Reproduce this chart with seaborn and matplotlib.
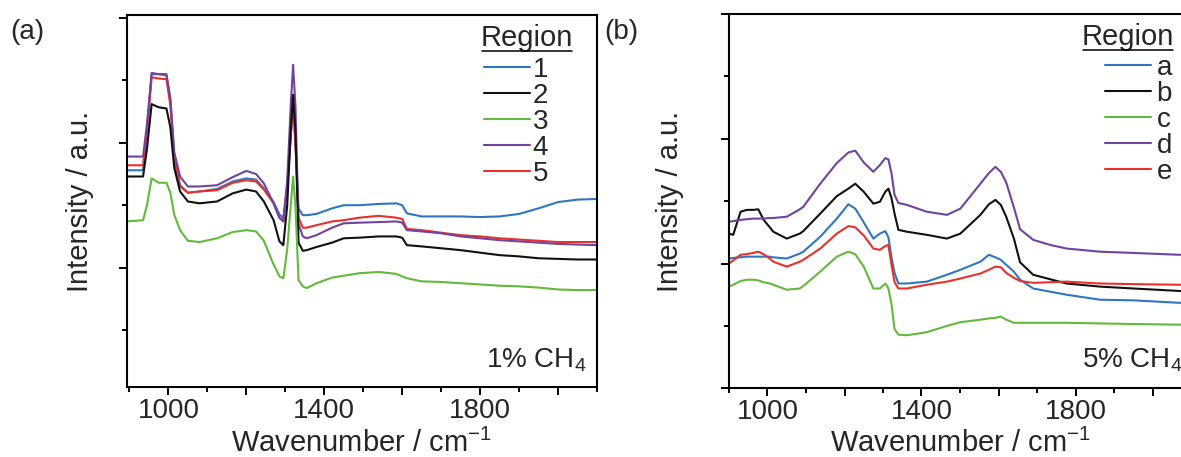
import matplotlib
matplotlib.use("Agg")
import matplotlib.pyplot as plt
import pandas as pd
import seaborn as sns
from matplotlib.lines import Line2D
from matplotlib.ticker import FixedLocator, FuncFormatter, NullFormatter
from matplotlib.transforms import IdentityTransform

# ---------------- data: Raman spectra, panel (a) 1% CH4 ----------------
wavenumber_a = [893, 935, 945, 957, 975, 995, 1005, 1015, 1030, 1050, 1080, 1125,
                1165, 1200, 1225, 1245, 1270, 1285, 1295, 1305, 1314, 1320, 1326,
                1334, 1345, 1355, 1380, 1420, 1450, 1490, 1540, 1585, 1600, 1612,
                1650, 1700, 1750, 1800, 1850, 1900, 1950, 2000, 2050, 2100]
region_1 = [3.56, 3.56, 4.20, 5.10, 5.10, 5.08, 4.70, 3.80, 3.32, 3.20, 3.22, 3.26,
            3.38, 3.43, 3.41, 3.27, 3.05, 2.85, 2.80, 3.30, 4.10, 4.65, 4.00,
            2.95, 2.84, 2.84, 2.86, 2.95, 3.00, 3.00, 3.02, 3.03, 3.00, 2.87,
            2.82, 2.82, 2.82, 2.81, 2.82, 2.86, 2.95, 3.05, 3.09, 3.10]
region_2 = [3.46, 3.46, 3.90, 4.62, 4.57, 4.55, 4.25, 3.60, 3.22, 3.06, 3.03, 3.06,
            3.19, 3.25, 3.22, 3.06, 2.76, 2.42, 2.36, 3.00, 4.20, 4.77, 4.20,
            2.40, 2.27, 2.28, 2.33, 2.40, 2.47, 2.48, 2.50, 2.50, 2.48, 2.36,
            2.34, 2.31, 2.28, 2.24, 2.20, 2.18, 2.15, 2.14, 2.13, 2.13]
region_3 = [2.74, 2.76, 3.00, 3.43, 3.36, 3.36, 3.20, 2.85, 2.60, 2.43, 2.41, 2.47,
            2.57, 2.60, 2.58, 2.43, 2.05, 1.86, 1.83, 2.30, 3.00, 3.46, 3.00,
            1.80, 1.70, 1.67, 1.75, 1.84, 1.87, 1.91, 1.93, 1.90, 1.86, 1.83,
            1.78, 1.77, 1.75, 1.73, 1.71, 1.70, 1.68, 1.65, 1.64, 1.64]
region_4 = [3.78, 3.78, 4.30, 5.12, 5.10, 5.10, 4.70, 3.85, 3.46, 3.30, 3.30, 3.32,
            3.45, 3.55, 3.50, 3.35, 3.03, 2.80, 2.74, 3.40, 4.60, 5.25, 4.60,
            2.70, 2.50, 2.47, 2.52, 2.64, 2.71, 2.72, 2.73, 2.74, 2.72, 2.60,
            2.58, 2.55, 2.50, 2.47, 2.44, 2.42, 2.40, 2.38, 2.37, 2.36]
region_5 = [3.64, 3.64, 4.20, 5.05, 5.03, 5.02, 4.60, 3.75, 3.30, 3.20, 3.22, 3.24,
            3.36, 3.40, 3.38, 3.25, 3.03, 2.80, 2.74, 3.30, 4.10, 4.65, 4.00,
            2.80, 2.64, 2.64, 2.68, 2.74, 2.76, 2.80, 2.83, 2.80, 2.78, 2.62,
            2.60, 2.56, 2.52, 2.50, 2.47, 2.45, 2.43, 2.41, 2.41, 2.41]

# ---------------- data: Raman spectra, panel (b) 5% CH4 ----------------
wavenumber_b = [900, 911, 930, 946, 963, 976, 990, 1006, 1015, 1050, 1084, 1093,
                1137, 1180, 1210, 1228, 1250, 1275, 1292, 1306, 1314, 1322, 1330,
                1340, 1362, 1414, 1466, 1501, 1553, 1575, 1592, 1606, 1620, 1640,
                1656, 1690, 1733, 1777, 1864, 1950, 2071, 2100]
region_a = [2.08, 2.09, 2.10, 2.11, 2.11, 2.11, 2.11, 2.11, 2.10, 2.08, 2.16, 2.19,
            2.43, 2.72, 2.95, 2.88, 2.66, 2.40, 2.48, 2.52, 2.42, 2.10, 1.85,
            1.68, 1.68, 1.71, 1.82, 1.90, 2.03, 2.14, 2.10, 2.06, 1.98, 1.87,
            1.74, 1.60, 1.55, 1.50, 1.42, 1.41, 1.37, 1.36]
region_b = [2.48, 2.46, 2.83, 2.86, 2.86, 2.87, 2.70, 2.58, 2.51, 2.40, 2.48, 2.52,
            2.80, 3.08, 3.20, 3.28, 3.15, 2.96, 2.99, 3.15, 3.20, 3.05, 2.80,
            2.54, 2.51, 2.46, 2.40, 2.48, 2.78, 2.95, 3.02, 2.94, 2.75, 2.40,
            2.02, 1.82, 1.75, 1.68, 1.63, 1.60, 1.56, 1.55]
region_c = [1.63, 1.66, 1.72, 1.74, 1.74, 1.73, 1.70, 1.68, 1.66, 1.58, 1.60, 1.64,
            1.87, 2.11, 2.19, 2.15, 1.95, 1.60, 1.60, 1.68, 1.60, 1.35, 0.95,
            0.86, 0.85, 0.90, 1.00, 1.06, 1.10, 1.12, 1.13, 1.15, 1.10, 1.05,
            1.05, 1.05, 1.05, 1.05, 1.04, 1.03, 1.02, 1.02]
region_d = [2.67, 2.68, 2.70, 2.71, 2.72, 2.72, 2.72, 2.73, 2.73, 2.75, 2.87, 2.91,
            3.28, 3.61, 3.78, 3.81, 3.62, 3.47, 3.58, 3.69, 3.67, 3.45, 3.10,
            2.97, 2.94, 2.83, 2.78, 2.88, 3.28, 3.45, 3.55, 3.47, 3.30, 2.90,
            2.55, 2.38, 2.30, 2.24, 2.19, 2.17, 2.14, 2.13]
region_e = [2.00, 2.05, 2.14, 2.15, 2.17, 2.19, 2.15, 2.08, 2.03, 1.95, 2.03, 2.06,
            2.24, 2.48, 2.60, 2.58, 2.45, 2.24, 2.22, 2.28, 2.30, 1.98, 1.70,
            1.60, 1.60, 1.66, 1.71, 1.76, 1.84, 1.90, 1.95, 1.94, 1.85, 1.77,
            1.72, 1.69, 1.70, 1.71, 1.68, 1.67, 1.66, 1.66]

labels_a = ["1", "2", "3", "4", "5"]
labels_b = ["a", "b", "c", "d", "e"]
line_colors = ["#2f76c2", "#111111", "#63b93a", "#7143a1", "#e8312b"]
xtick_labelled = [1000, 1400, 1800]

# ---------------- style ----------------
sns.set_style("ticks")
plt.rcParams["font.family"] = ["Liberation Sans", "DejaVu Sans"]
plt.rcParams["mathtext.fontset"] = "custom"
plt.rcParams["mathtext.rm"] = "Liberation Sans"
plt.rcParams["mathtext.it"] = "Liberation Sans:italic"
plt.rcParams["mathtext.default"] = "regular"

W, H = 1181, 457
fig = plt.figure(figsize=(W / 100, H / 100), dpi=100)
fig.patch.set_facecolor("white")


def px_rect(left, top, right, bottom):
    return [left / W, 1 - bottom / H, (right - left) / W, (bottom - top) / H]


def fx(px):
    return px / W


def fy(px):
    return 1 - px / H


ax_a = fig.add_axes(px_rect(126.7, 15.5, 597, 387))
ax_b = fig.add_axes(px_rect(729, 14, 1191, 388.3))


def long_form(wn, names, series):
    frames = [pd.DataFrame({"wavenumber": wn, "intensity": vals, "region": name})
              for name, vals in zip(names, series)]
    return pd.concat(frames, ignore_index=True)


df_a = long_form(wavenumber_a, labels_a, [region_1, region_2, region_3, region_4, region_5])
df_b = long_form(wavenumber_b, labels_b, [region_a, region_b, region_c, region_d, region_e])
pal_a = dict(zip(labels_a, line_colors))
pal_b = dict(zip(labels_b, line_colors))

sns.lineplot(data=df_a, x="wavenumber", y="intensity", hue="region",
             hue_order=["1", "5", "4", "2", "3"], palette=pal_a,
             estimator=None, sort=False, linewidth=1.5, legend=False, ax=ax_a)
sns.lineplot(data=df_b, x="wavenumber", y="intensity", hue="region",
             hue_order=labels_b, palette=pal_b,
             estimator=None, sort=False, linewidth=1.5, legend=False, ax=ax_b)


def style_axes(ax, xlim, ylim, ymajor, yminor):
    ax.set_xlim(*xlim)
    ax.set_ylim(*ylim)
    for side in ("left", "right", "top", "bottom"):
        ax.spines[side].set_visible(True)
        ax.spines[side].set_linewidth(1.5)
        ax.spines[side].set_color("black")
    ax.xaxis.set_major_locator(FixedLocator(list(range(1000, 2101, 200))))
    ax.xaxis.set_minor_locator(FixedLocator(list(range(900, 2101, 200))))
    ax.xaxis.set_major_formatter(FuncFormatter(
        lambda v, p: f"{v:.0f}" if int(round(v)) in xtick_labelled else ""))
    ax.yaxis.set_major_locator(FixedLocator(ymajor))
    ax.yaxis.set_minor_locator(FixedLocator(yminor))
    ax.yaxis.set_major_formatter(NullFormatter())
    ax.tick_params(which="major", direction="out", length=5.8, width=1.4,
                   color="black", labelsize=20, pad=2, top=False, right=False)
    ax.tick_params(which="minor", direction="out", length=3.6, width=1.4,
                   color="black", top=False, right=False)
    ax.set_xlabel("Wavenumber / cm$^{-1}$", fontsize=21)
    ax.set_ylabel("Intensity / a.u.", fontsize=21)
    ax.grid(False)


style_axes(ax_a, (893, 2100), (0.087, 6.04), [2, 4, 6], [1, 3, 5])
style_axes(ax_b, (900, 2100), (0.0, 6.0), [0, 2, 4, 6], [1, 3, 5])

ax_a.xaxis.set_label_coords(0.5, -0.174)
ax_a.xaxis.label.set_verticalalignment("baseline")
ax_b.xaxis.set_label_coords(0.5, -0.1694)
ax_b.xaxis.label.set_verticalalignment("baseline")
ax_a.yaxis.set_label_coords(-0.0993, 0.5)
ax_a.yaxis.label.set_verticalalignment("center")
ax_b.yaxis.set_label_coords(-0.128, 0.5)
ax_b.yaxis.label.set_verticalalignment("center")

# concentration annotations
ax_a.text(fx(486), fy(367), "1% CH$_4$", transform=fig.transFigure,
          fontsize=20, ha="left", va="baseline")
ax_b.text(fx(1082), fy(368), "5% CH$_4$", transform=fig.transFigure,
          fontsize=20, ha="left", va="baseline")

# panel letters
fig.text(fx(10), fy(39), "(a)", fontsize=20, va="baseline", ha="left")
fig.text(fx(604), fy(39), "(b)", fontsize=20, va="baseline", ha="left")


def add_legend(ax, labels, anchor, loc, pad):
    handles = [Line2D([], [], color=c, linewidth=1.5) for c in line_colors]
    leg = ax.legend(handles, labels, loc=loc,
                    bbox_to_anchor=anchor, bbox_transform=fig.transFigure,
                    frameon=False, fontsize=20,
                    handlelength=1.65, handletextpad=pad, labelspacing=0.0,
                    borderpad=0.0, borderaxespad=0.0)
    return leg


add_legend(ax_a, labels_a, (fx(484), fy(57)), "upper left", 0.1)
add_legend(ax_b, labels_b, (fx(1172), fy(55)), "upper right", 0.2)

# legend headings, underlined
title_a = ax_a.text(fx(481), fy(46), "Region", transform=fig.transFigure,
                    fontsize=21, ha="left", va="baseline")
title_b = ax_b.text(fx(1174), fy(45), "Region", transform=fig.transFigure,
                    fontsize=21, ha="right", va="baseline")

fig.canvas.draw()
renderer = fig.canvas.get_renderer()
for t, base in ((title_a, 46), (title_b, 45)):
    bb = t.get_window_extent(renderer)
    y = H - (base + 4.8)
    fig.add_artist(Line2D([bb.x0 + 1, bb.x1 - 1], [y, y], color="black",
                          linewidth=1.1, transform=IdentityTransform()))

fig.savefig("out.png", dpi=100, facecolor="white")
